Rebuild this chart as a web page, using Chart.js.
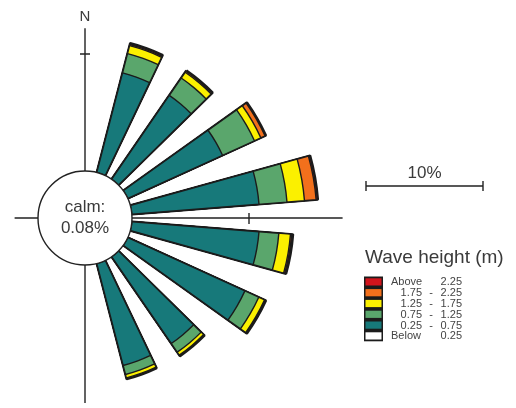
<!DOCTYPE html>
<html>
<head>
<meta charset="utf-8">
<script src="https://cdn.jsdelivr.net/npm/chart.js@4/dist/chart.umd.min.js"></script>
<style>
  html, body { margin: 0; padding: 0; background: #fff; }
  #wrap { width: 516px; height: 408px; position: relative; }
  canvas { display: block; }
</style>
</head>
<body>
<div id="wrap"><canvas id="rose" width="516" height="408"></canvas></div>
<script>
// Wave rose: share of time (%) per direction sector, split by significant wave height class.
const directions = [20, 40, 60, 80, 100, 120, 140, 160];          // sector centres, degrees from N
const below025   = [0, 0, 0, 0, 0, 0, 0, 0];                        // Below 0.25 m
const h025_075   = [8.8, 8.7, 8.9, 10.9, 10.9, 11.0, 9.0, 9.0];     // 0.25 - 0.75 m
const h075_125   = [1.7, 1.8, 3.0, 2.4, 1.7, 1.3, 0.9, 0.8];        // 0.75 - 1.25 m
const h125_175   = [0.7, 0.6, 0.6, 1.5, 1.0, 0.55, 0.3, 0.3];       // 1.25 - 1.75 m
const h175_225   = [0.1, 0.1, 0.4, 1.0, 0.1, 0.05, 0.05, 0.05];     // 1.75 - 2.25 m
const above225   = [0.12, 0.08, 0.08, 0.15, 0.12, 0.08, 0.06, 0.06]; // Above 2.25 m

const classSeries = [below025, h025_075, h075_125, h125_175, h175_225, above225];
const classColors = ['#ffffff', '#17797a', '#5aa66c', '#fbf000', '#f2701c', '#d3141c'];

const legendTitle = 'Wave height (m)';
const legendLow   = ['Above', '1.75', '1.25', '0.75', '0.25', 'Below'];
const legendHigh  = ['2.25', '2.25', '1.75', '1.25', '0.75', '0.25'];
const legendDash  = [false, true, true, true, true, false];
const legendFill  = ['#d3141c', '#f2701c', '#fbf000', '#5aa66c', '#17797a', '#ffffff'];

const calmLabel  = 'calm:';
const calmValue  = '0.08%';
const northLabel = 'N';
const scaleBarValue = 10;
const scaleBarLabel = '10%';

// Geometry of the radial scale
const CENTER_X = 85, CENTER_Y = 218;
const CALM_RADIUS = 47;      // px, radius of the calm circle (= 0 %)
const PX_PER_PCT  = 11.7;    // px per percent
const AREA_HALF   = 80;      // half size of the chart area box
const SECTOR_WIDTH = 11;     // degrees per wedge
const SECTOR_STEP  = 20;     // degrees between wedge centres

const rMin = -CALM_RADIUS / PX_PER_PCT;
const rMax = rMin + AREA_HALF / PX_PER_PCT;

// Alternate wedge / gap entries around the compass
const labels = [];
directions.forEach(d => { labels.push(d + '°'); labels.push(''); });
const lastIndex = labels.length - 1;

function cumulative(k) {
  return directions.map((_, i) => {
    let s = 0;
    for (let j = 0; j <= k; j++) s += classSeries[j][i];
    return s;
  });
}

const outerClass = classSeries.length - 1;
const datasets = classSeries.map((_, k) => {
  const cum = cumulative(k);
  const data = [];
  cum.forEach(v => { data.push(v); data.push(rMin); });
  return {
    label: k,
    data,
    clip: false,
    backgroundColor: ctx => ctx.dataIndex % 2 === 0 ? classColors[k] : 'rgba(0,0,0,0)',
    borderColor: '#1b1b1b',
    borderWidth: ctx => ctx.dataIndex % 2 === 0 ? (k === outerClass ? 2.4 : 1.4) : 0,
    borderJoinStyle: 'bevel',
    angle: ctx => {
      if (ctx.dataIndex % 2 === 0) return SECTOR_WIDTH;
      if (ctx.dataIndex === lastIndex) return 360 - directions.length * SECTOR_WIDTH - (directions.length - 1) * (SECTOR_STEP - SECTOR_WIDTH);
      return SECTOR_STEP - SECTOR_WIDTH;
    }
  };
});

const FONT = '"Liberation Sans", Arial, Helvetica, sans-serif';

const roseDecor = {
  id: 'roseDecor',
  beforeDatasetsDraw(chart) {
    const r = chart.scales.r, ctx = chart.ctx;
    const cx = r.xCenter, cy = r.yCenter;
    const d = v => r.getDistanceFromCenterForValue(v);
    ctx.save();
    ctx.strokeStyle = '#222';
    ctx.lineWidth = 1.4;
    ctx.beginPath();
    ctx.moveTo(cx, cy - d(12.2));
    ctx.lineTo(cx, cy + d(11.8));
    ctx.moveTo(cx - d(2.0), cy);
    ctx.lineTo(cx + d(18.0), cy);
    // 10 % ticks on N and E axes
    ctx.moveTo(cx - 5, cy - d(10));
    ctx.lineTo(cx + 5, cy - d(10));
    ctx.moveTo(cx + d(10), cy - 5);
    ctx.lineTo(cx + d(10), cy + 6);
    ctx.stroke();
    ctx.restore();
  },
  afterDatasetsDraw(chart) {
    const r = chart.scales.r, ctx = chart.ctx;
    const cx = r.xCenter, cy = r.yCenter;
    const d = v => r.getDistanceFromCenterForValue(v);
    ctx.save();
    // calm circle
    ctx.beginPath();
    ctx.arc(cx, cy, d(0), 0, Math.PI * 2);
    ctx.fillStyle = '#fff';
    ctx.fill();
    ctx.strokeStyle = '#222';
    ctx.lineWidth = 1.4;
    ctx.stroke();

    ctx.fillStyle = '#3a3a3a';
    ctx.textAlign = 'center';
    ctx.textBaseline = 'alphabetic';
    ctx.font = '17px ' + FONT;
    ctx.fillText(calmLabel, cx, cy - 6);
    ctx.fillText(calmValue, cx, cy + 15);

    ctx.font = '15px ' + FONT;
    ctx.fillText(northLabel, cx, 21);

    // scale bar
    const x0 = 366, yb = 186;
    const len = d(scaleBarValue) - d(0);
    ctx.strokeStyle = '#222';
    ctx.lineWidth = 1.4;
    ctx.beginPath();
    ctx.moveTo(x0, yb); ctx.lineTo(x0 + len, yb);
    ctx.moveTo(x0, yb - 5); ctx.lineTo(x0, yb + 5);
    ctx.moveTo(x0 + len, yb - 5); ctx.lineTo(x0 + len, yb + 5);
    ctx.stroke();
    ctx.font = '17px ' + FONT;
    ctx.fillText(scaleBarLabel, x0 + len / 2, 178);

    // legend
    ctx.textAlign = 'left';
    ctx.font = '19px ' + FONT;
    ctx.fillText(legendTitle, 365, 263);

    const bx = 364, bw = 19, by = 276.5, rowH = 10.8;
    ctx.fillStyle = '#1b1b1b';
    ctx.fillRect(bx, by, bw, rowH * legendFill.length);
    legendFill.forEach((c, i) => {
      ctx.fillStyle = c;
      ctx.fillRect(bx + 1.5, by + i * rowH + 1.8, bw - 3, rowH - 3.6);
    });
    ctx.font = '11px ' + FONT;
    ctx.fillStyle = '#444';
    ctx.textBaseline = 'middle';
    legendLow.forEach((t, i) => {
      const y = by + (i + 0.5) * rowH + 0.5;
      if (legendDash[i]) {
        ctx.textAlign = 'right';
        ctx.fillText(t, 422, y);
        ctx.textAlign = 'center';
        ctx.fillText('-', 431, y);
      } else {
        ctx.textAlign = 'left';
        ctx.fillText(t, 391, y);
      }
      ctx.textAlign = 'right';
      ctx.fillText(legendHigh[i], 462, y);
    });
    ctx.restore();
  }
};

new Chart(document.getElementById('rose'), {
  type: 'polarArea',
  data: { labels, datasets },
  options: {
    responsive: false,
    devicePixelRatio: 1,
    animation: false,
    events: [],
    layout: { padding: { left: CENTER_X - AREA_HALF, top: CENTER_Y - AREA_HALF, right: 516 - CENTER_X - AREA_HALF, bottom: 408 - CENTER_Y - AREA_HALF } },
    plugins: { legend: { display: false }, tooltip: { enabled: false } },
    scales: {
      r: {
        min: rMin,
        max: rMax,
        startAngle: directions[0] - SECTOR_WIDTH / 2,
        ticks: { display: false },
        grid: { display: false },
        angleLines: { display: false },
        pointLabels: { display: false }
      }
    }
  },
  plugins: [roseDecor]
});
</script>
</body>
</html>
